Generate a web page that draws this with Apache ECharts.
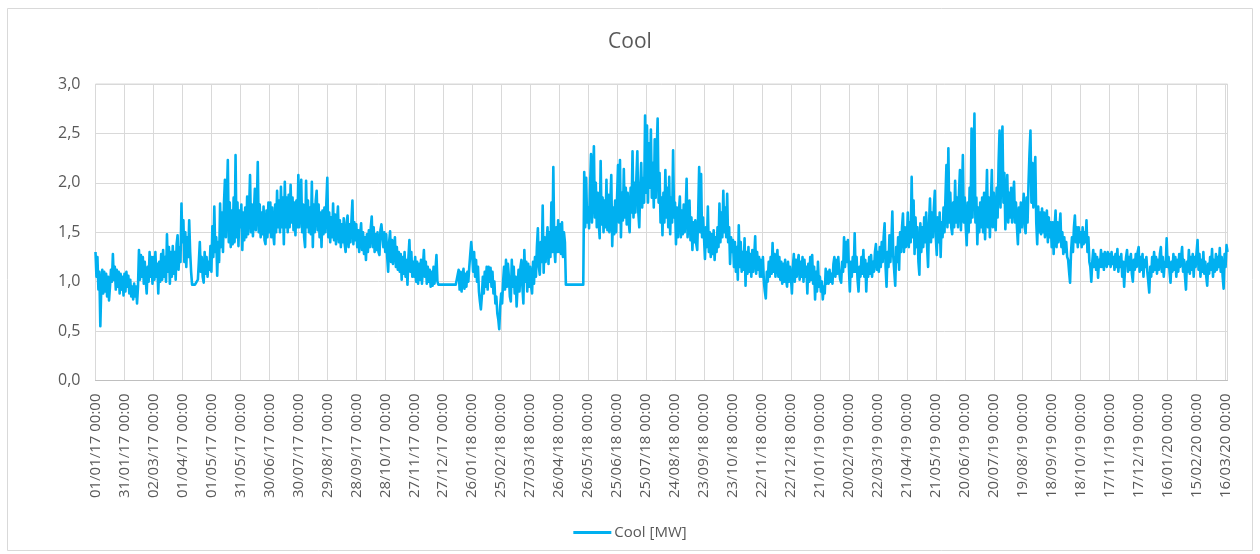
<!DOCTYPE html>
<html>
<head>
<meta charset="utf-8">
<script src="https://cdn.jsdelivr.net/npm/echarts@6/dist/echarts.min.js"></script>
<style>
html,body{margin:0;padding:0;background:#fff;}
#chart{width:1260px;height:554px;}
</style>
</head>
<body>
<div id="chart"></div>
<script>
// Daily values of "Cool [MW]", starting 01/01/2017
const cool2017 = [
1.30,1.05,1.25,0.92,1.10,0.55,0.95,1.12,0.88,1.10,0.90,1.08,0.85,1.05,0.81,0.95,1.12,1.00,1.28,1.02,1.15,0.92,1.12,0.95,1.10,0.88,1.08,0.92,1.05,0.86,
1.08,0.90,1.10,0.95,1.06,0.88,1.02,0.85,0.95,0.82,0.98,0.85,0.95,0.78,0.95,1.32,1.02,1.27,1.05,1.25,0.98,1.20,1.02,0.88,1.15,1.00,1.30,1.05,1.25,0.98,
1.25,1.02,1.30,1.05,1.18,0.88,1.20,1.00,1.28,1.02,1.32,1.05,1.25,1.00,1.48,1.10,1.35,0.98,1.30,1.05,1.36,1.08,1.30,1.02,1.38,1.47,1.12,1.35,1.20,1.79,
1.40,1.62,1.20,1.50,1.15,1.45,1.25,1.62,1.30,1.10,0.97,0.96,0.96,0.97,0.96,0.98,1.02,1.20,1.40,1.10,1.25,1.05,0.99,1.30,1.08,1.25,1.05,1.20,1.12,1.36,
1.10,1.56,1.25,1.76,1.30,1.45,1.06,1.40,1.20,1.79,1.35,1.70,1.30,1.79,2.03,1.45,1.85,2.23,1.40,1.80,1.35,1.72,1.38,1.85,1.40,2.28,1.45,1.80,1.36,1.72,
1.55,1.78,1.32,1.70,1.42,1.75,1.45,1.86,1.48,1.72,2.08,1.50,1.78,1.46,1.45,1.94,1.52,1.75,2.21,1.50,1.78,1.45,1.70,1.48,1.76,1.42,1.38,1.72,1.45,1.80,
1.50,1.80,1.45,1.75,1.48,1.38,1.78,1.50,1.92,1.55,1.82,1.50,1.96,1.55,1.85,1.38,2.01,1.55,1.85,1.50,1.88,1.55,1.98,1.60,1.85,1.52,1.80,1.47,1.82,1.55,
2.08,1.55,1.80,2.03,1.50,1.78,1.45,1.35,2.02,1.55,1.82,1.50,1.75,1.48,2.01,1.35,1.78,1.50,1.82,1.92,1.52,1.78,1.45,1.70,1.35,1.72,1.48,1.75,1.50,1.80,
2.05,1.45,1.70,1.40,1.65,1.45,1.79,1.42,1.68,1.38,1.60,1.76,1.40,1.62,1.35,1.58,1.40,1.64,1.38,1.30,1.60,1.67,1.35,1.58,1.40,1.62,1.82,1.38,1.60,1.42,
1.58,1.35,1.52,1.30,1.48,1.59,1.32,1.50,1.28,1.45,1.22,1.48,1.30,1.52,1.35,1.55,1.66,1.35,1.55,1.30,1.48,1.32,1.50,1.30,1.27,1.52,1.58,1.60,1.35,1.50,
1.30,1.48,1.25,1.10,1.40,1.51,1.20,1.42,1.18,1.35,1.45,1.15,1.35,1.12,1.30,1.10,1.28,1.02,1.25,1.08,1.30,1.05,1.22,0.97,1.25,1.42,1.10,1.30,1.05,1.20,
1.05,1.25,1.00,1.20,0.98,1.18,1.02,1.22,0.98,1.15,1.32,1.05,1.20,0.98,1.15,1.00,1.12,0.95,1.10,0.96,1.15,0.98,1.12,1.27,1.00,0.97,0.97,0.97,0.97,0.97,
0.97,0.97,0.97,0.97,0.97
];
const cool2018 = [
0.97,0.97,0.97,0.97,0.97,0.97,0.97,0.97,0.97,0.97,0.97,1.12,0.92,1.10,0.90,1.05,1.13,0.93,1.08,0.95,1.10,1.00,1.15,1.28,1.40,
1.28,1.10,1.30,1.05,1.22,1.00,1.15,0.90,0.80,0.72,0.85,1.05,0.88,1.10,0.95,1.15,0.92,1.15,1.00,1.14,0.95,1.10,0.88,1.00,0.78,0.85,0.68,0.62,0.52,0.75,
0.88,0.78,1.00,1.15,0.92,1.22,0.95,1.18,1.05,0.85,0.80,1.22,0.95,1.15,0.88,1.05,0.75,0.95,1.12,0.90,1.15,1.22,0.95,0.78,1.32,1.00,1.20,0.90,1.18,0.95,
1.15,0.95,0.88,1.20,0.98,1.25,1.05,1.35,1.54,1.15,1.07,1.40,1.20,1.77,1.09,1.45,1.20,1.40,1.55,1.18,1.50,1.25,1.80,1.30,2.16,1.35,1.20,1.55,1.30,1.62,
1.30,1.58,1.28,1.60,1.25,1.50,1.40,0.97,0.97,0.97,0.97,0.97,0.97,0.97,0.97,0.97,0.97,0.97,0.97,0.97,0.97,0.97,0.97,0.97,0.97,0.97,2.11,1.55,2.05,1.60,
1.75,1.54,1.95,2.29,1.60,1.98,2.37,1.65,2.00,1.55,1.90,1.60,1.44,2.22,1.58,1.85,1.50,1.82,1.55,2.03,1.52,1.88,1.50,1.80,2.08,1.36,1.75,1.48,1.82,1.50,
1.85,2.18,1.60,2.23,1.45,1.90,1.62,2.14,1.65,1.95,1.58,1.90,1.62,1.50,1.95,1.70,2.32,1.65,2.00,1.70,2.05,2.32,1.70,1.55,1.95,2.20,1.75,2.05,1.80,2.68,
1.90,2.58,1.80,2.40,1.95,2.54,1.85,2.20,1.75,2.44,1.85,2.30,2.65,1.80,2.10,1.60,1.85,1.47,1.90,1.60,2.13,1.65,1.95,1.55,2.06,1.48,1.85,1.60,2.33,1.65,
1.80,1.38,1.75,1.45,1.70,1.86,1.45,1.72,1.48,1.78,1.50,1.70,2.04,1.45,1.68,1.82,1.42,1.65,1.32,1.60,1.40,1.62,1.38,1.32,1.70,2.16,1.50,2.09,1.45,1.65,
1.45,1.23,1.55,1.35,1.76,1.30,1.50,1.25,1.48,1.28,1.52,1.22,1.45,1.30,1.55,1.35,1.79,1.40,1.70,1.45,1.92,1.50,1.75,1.45,1.89,1.40,1.55,1.18,1.45,1.30,
1.42,1.15,1.40,1.10,1.35,1.02,1.57,1.15,1.40,1.10,1.30,1.12,1.44,0.96,1.30,1.08,1.35,1.10,1.28,1.05,1.32,1.10,1.25,1.46,1.08,1.30,1.12,1.25,1.05,1.22,
1.05,1.25,1.00,0.90,0.83,1.10,1.00,1.20,1.05,1.25,1.08,1.39,1.10,1.28,1.05,1.22,1.32,1.05,1.25,1.02,1.20,0.98,1.18,1.00,1.22,1.02,0.95,1.20,1.00,1.15,
1.05,0.88,1.15,1.28,1.00,1.22,1.05,1.20,1.27,1.02
];
const cool2019 = [
1.20,1.05,1.25,1.00,1.22,1.05,1.15,0.88,1.18,1.00,1.25,1.02,1.27,0.98,1.15,0.82,1.10,0.90,1.20,0.95,
1.05,0.90,1.00,0.82,0.95,0.88,1.13,0.98,1.10,0.98,1.12,1.00,1.08,0.98,1.18,1.25,1.05,1.22,1.08,1.25,1.10,1.02,0.99,1.20,1.10,1.45,1.15,1.40,1.20,1.42,
1.15,0.90,1.20,1.05,1.25,1.10,1.49,1.10,1.25,1.02,0.90,1.15,1.05,1.25,1.08,1.32,1.05,1.22,0.90,1.18,1.05,1.25,1.08,1.27,1.05,1.20,1.10,1.30,1.38,1.12,
1.30,1.10,1.35,1.15,1.40,1.20,1.45,1.59,1.15,0.95,1.30,1.15,1.47,1.20,1.40,1.71,1.25,1.10,0.96,1.35,1.20,1.45,1.12,1.50,1.30,1.55,1.69,1.30,1.55,1.35,
1.40,1.70,1.35,1.60,1.40,2.06,1.45,1.82,1.28,1.65,1.35,1.55,1.20,1.07,1.59,1.30,1.55,1.35,1.65,1.40,1.70,1.35,1.15,1.60,1.84,1.40,1.70,1.45,1.75,1.92,
1.45,1.27,1.65,1.40,1.70,1.25,1.60,1.45,1.75,1.50,1.85,2.18,1.55,2.35,1.60,1.90,1.55,1.48,1.80,1.55,2.02,1.60,1.85,1.55,1.90,2.13,1.52,1.85,2.28,1.60,
1.85,1.55,1.37,1.80,1.50,1.95,1.60,2.55,1.65,2.05,2.70,1.60,1.85,1.38,1.75,1.50,1.80,1.55,1.85,1.50,1.90,1.43,1.75,2.13,1.55,1.85,1.45,1.80,2.13,1.55,
1.90,1.60,1.52,1.95,1.65,2.20,2.53,1.75,2.30,2.57,1.80,2.10,1.53,1.85,2.08,1.60,1.90,1.65,1.95,1.60,1.85,2.01,1.60,1.80,1.55,1.38,1.75,1.50,1.80,1.55,
1.70,1.89,1.55,1.49,1.85,1.60,2.00,2.30,2.53,1.80,2.20,1.75,2.10,2.26,1.60,1.38,1.76,1.50,1.70,1.48,1.74,1.50,1.70,1.45,1.65,1.72,1.40,1.65,1.45,1.60,
1.35,1.60,1.28,1.55,1.72,1.35,1.60,1.40,1.55,1.69,1.35,1.50,1.28,1.45,1.30,1.40,1.25,1.22,1.10,0.99,1.30,1.45,1.30,1.55,1.67,1.40,1.55,1.35,1.55,1.40,
1.50,1.35,1.55,1.38,1.50,1.40,1.62,1.30,1.45,1.20,1.15,1.00,1.20,1.32,1.15,1.28,1.12,1.25,1.04,1.22,1.15,1.32,1.15,1.28,1.12,1.30,1.25,1.15,1.30,1.18,
1.28,1.15,1.30,1.18,1.25,1.12,1.28,1.15,1.33,1.10,1.25,1.15,1.28,1.05,1.20,0.95,1.15,1.25,1.32,1.10,1.25,1.12,1.28,1.08,1.00,1.22,1.12,1.28,1.15,1.30,
1.35,1.10,1.25,1.12,1.28,1.05,1.22,1.15,1.25,1.10,1.00,0.89,1.15,1.05,1.25
];
const cool2020 = [
1.10,1.30,1.12,1.25,1.08,1.22,1.12,1.28,1.35,1.10,1.25,1.05,1.20,1.15,1.44,
1.15,1.25,1.10,0.99,1.20,1.10,1.28,1.12,1.25,1.05,1.22,1.10,1.28,1.15,1.25,1.35,1.10,1.22,1.05,0.92,1.20,1.10,1.32,1.08,1.25,1.12,1.28,1.05,1.25,1.15,
1.30,1.42,1.12,1.28,1.05,1.22,1.10,1.30,1.08,1.20,1.05,0.96,1.18,1.08,1.25,1.12,1.33,1.05,1.22,1.10,1.28,1.12,1.25,1.15,1.34,1.10,1.25,1.05,0.93,1.28,
1.15,1.37,1.30
];
const yTicks = [0, 0.5, 1.0, 1.5, 2.0, 2.5, 3.0];

const coolValues = cool2017.concat(cool2018, cool2019, cool2020);

// Day categories starting 01/01/2017, labelled like "dd/mm/yy 00:00"
const startDate = Date.UTC(2017, 0, 1);
const categories = coolValues.map((_, i) => {
  const d = new Date(startDate + i * 86400000);
  const dd = String(d.getUTCDate()).padStart(2, '0');
  const mm = String(d.getUTCMonth() + 1).padStart(2, '0');
  const yy = String(d.getUTCFullYear() % 100).padStart(2, '0');
  return dd + '/' + mm + '/' + yy + ' 00:00';
});

const FONT = "'Open Sans', 'Liberation Sans', sans-serif";
const TXT = '#595959';
const chart = echarts.init(document.getElementById('chart'), null, {renderer: 'canvas'});
chart.setOption({
  animation: false,
  backgroundColor: '#ffffff',
  textStyle: {fontFamily: FONT},
  title: {
    text: 'Cool',
    left: 'center',
    top: 27,
    textStyle: {fontFamily: FONT, fontSize: 21, fontWeight: 'normal', color: TXT}
  },
  graphic: [{
    type: 'rect',
    shape: {x: 7.5, y: 8.5, width: 1245, height: 542},
    style: {fill: 'none', stroke: '#d9d9d9', lineWidth: 1},
    silent: true
  }],
  legend: {
    bottom: 9,
    left: 'center',
    icon: 'rect',
    itemWidth: 38,
    itemHeight: 3,
    itemGap: 10,
    textStyle: {fontFamily: FONT, fontSize: 15, color: TXT, padding: [0, 0, 0, -2]},
    data: ['Cool [MW]']
  },
  grid: {
    left: 95.5,
    right: 32.5,
    top: 84,
    bottom: 173.5,
    show: true,
    borderColor: '#d9d9d9',
    borderWidth: 1,
    containLabel: false
  },
  xAxis: {
    type: 'category',
    data: categories,
    boundaryGap: false,
    axisLine: {show: true, lineStyle: {color: '#bfbfbf', width: 1}},
    axisTick: {show: false},
    axisLabel: {
      interval: 29,
      rotate: 90,
      margin: 13,
      color: TXT,
      fontSize: 15,
      fontFamily: FONT
    },
    splitLine: {show: true, interval: 29, lineStyle: {color: '#d9d9d9', width: 1}}
  },
  yAxis: {
    type: 'value',
    min: yTicks[0],
    max: yTicks[yTicks.length - 1],
    interval: 0.5,
    axisLine: {show: false},
    axisTick: {show: false},
    axisLabel: {
      margin: 15,
      color: TXT,
      fontSize: 16,
      fontFamily: FONT,
      formatter: v => v.toFixed(1).replace('.', ',')
    },
    splitLine: {show: true, lineStyle: {color: '#d9d9d9', width: 1}}
  },
  series: [{
    name: 'Cool [MW]',
    type: 'line',
    data: coolValues,
    symbol: 'none',
    showSymbol: false,
    sampling: null,
    lineStyle: {color: '#00B0F0', width: 2.6, join: 'round'},
    itemStyle: {color: '#00B0F0'}
  }]
});
</script>
</body>
</html>
